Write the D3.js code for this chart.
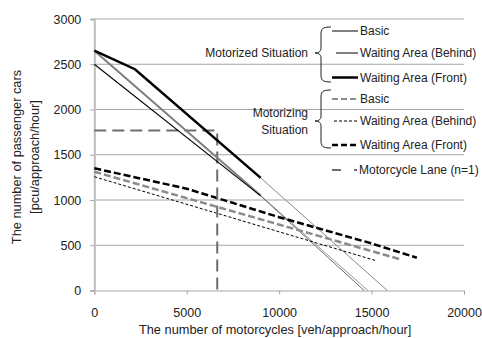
<!DOCTYPE html>
<html>
<head>
<meta charset="utf-8">
<script src="https://cdn.jsdelivr.net/npm/d3@7"></script>
<style>
  body { margin: 0; background: #fff; }
  svg { display: block; font-family: "Liberation Sans", Arial, sans-serif; }
</style>
</head>
<body>
<div id="chart"></div>
<script>
// x = motorcycles [veh/approach/hour], y = passenger cars [pcu/approach/hour]
const motorizedBasic = [[0, 2650], [9000, 1050]];
const motorizedBasicExt = [[9000, 1050], [14800, 0]];
const motorizedBehind = [[0, 2500], [9000, 1045]];
const motorizedBehindExt = [[9000, 1045], [14600, 0]];
const motorizedFront = [[0, 2650], [2200, 2445], [9000, 1245]];
const motorizedFrontExt = [[9000, 1245], [15850, 0]];

const motorizingBasic = [[0, 1313], [16550, 345]];
const motorizingBehind = [[0, 1257], [15300, 326]];
const motorizingFront = [[0, 1350], [5000, 1125], [10000, 810], [15000, 520], [17450, 362]];

const motorcycleLane = [[0, 1768], [6650, 1768], [6650, 0]];

const xTicks = [0, 5000, 10000, 15000, 20000];
const yTicks = [0, 500, 1000, 1500, 2000, 2500, 3000];

const groupNames = ["Motorized Situation", ["Motorizing", "Situation"]];
const legendLabels = ["Basic", "Waiting Area (Behind)", "Waiting Area (Front)",
                      "Basic", "Waiting Area (Behind)", "Waiting Area (Front)"];
const laneLabel = "Motorcycle Lane (n=1)";

const width = 482, height = 338;
const margin = {top: 19, right: 18, bottom: 47.5, left: 94.3};

const svg = d3.select("#chart").append("svg")
  .attr("width", width)
  .attr("height", height);

const x = d3.scaleLinear().domain([0, 20000]).range([margin.left, width - margin.right]);
const y = d3.scaleLinear().domain([0, 3000]).range([height - margin.bottom, margin.top]);

// gridlines
svg.append("g")
  .selectAll("line")
  .data(yTicks.slice(1))
  .join("line")
  .attr("x1", x(0)).attr("x2", x(20000))
  .attr("y1", d => y(d)).attr("y2", d => y(d))
  .attr("stroke", "#a6a6a6").attr("stroke-width", 1);

// x axis
const xAxis = svg.append("g")
  .attr("transform", `translate(0,${y(0)})`)
  .call(d3.axisBottom(x).tickValues(xTicks).tickSize(4).tickPadding(14).tickFormat(d3.format("d")));
xAxis.select(".domain").attr("stroke", "#a6a6a6");
xAxis.selectAll(".tick line").attr("stroke", "#a6a6a6");
xAxis.selectAll("text").attr("font-size", 12.5).attr("fill", "#222")
  .attr("font-family", "Liberation Sans, Arial, sans-serif");

// y axis
const yAxis = svg.append("g")
  .attr("transform", `translate(${x(0)},0)`)
  .call(d3.axisLeft(y).tickValues(yTicks).tickSize(4).tickPadding(9).tickFormat(d3.format("d")));
yAxis.select(".domain").attr("stroke", "#bdbdbd").attr("stroke-width", 2);
yAxis.selectAll(".tick line").attr("stroke", "#a6a6a6");
yAxis.selectAll("text").attr("font-size", 12.5).attr("fill", "#222")
  .attr("font-family", "Liberation Sans, Arial, sans-serif");

const line = d3.line().x(d => x(d[0])).y(d => y(d[1]));

const series = [
  {data: motorizedBasicExt, color: "#9a9a9a", w: 1, dash: null},
  {data: motorizedBehindExt, color: "#6a6a6a", w: 1, dash: null},
  {data: motorizedFrontExt, color: "#8a8a8a", w: 1, dash: null},
  {data: motorizingBehind, color: "#000", w: 1, dash: "3,2"},
  {data: motorizingBasic, color: "#8c8c8c", w: 2.5, dash: "7,3"},
  {data: motorizingFront, color: "#000", w: 2.5, dash: "7,3"},
  {data: motorcycleLane, color: "#6e6e6e", w: 2, dash: "12,6"},
  {data: motorizedBasic, color: "#7f7f7f", w: 2, dash: null},
  {data: motorizedBehind, color: "#000", w: 1.1, dash: null},
  {data: motorizedFront, color: "#000", w: 2.5, dash: null}
];

svg.append("g")
  .selectAll("path")
  .data(series)
  .join("path")
  .attr("d", d => line(d.data))
  .attr("fill", "none")
  .attr("stroke", d => d.color)
  .attr("stroke-width", d => d.w)
  .attr("stroke-dasharray", d => d.dash);

// legend
const legendStyles = [
  {color: "#7f7f7f", w: 2, dash: null, x1: 332},
  {color: "#000", w: 1, dash: null, x1: 336},
  {color: "#000", w: 2.5, dash: null, x1: 332},
  {color: "#8c8c8c", w: 2, dash: "6,3", x1: 332},
  {color: "#000", w: 1, dash: "3,2", x1: 334},
  {color: "#000", w: 2.5, dash: "6,3", x1: 332}
];
const legendY = [31, 53, 77.5, 99, 121, 145];

const lg = svg.append("g").attr("font-size", 12).attr("fill", "#222");

lg.selectAll("line.item")
  .data(legendStyles)
  .join("line")
  .attr("class", "item")
  .attr("x1", d => d.x1).attr("x2", 358)
  .attr("y1", (d, i) => legendY[i]).attr("y2", (d, i) => legendY[i])
  .attr("stroke", d => d.color)
  .attr("stroke-width", d => d.w)
  .attr("stroke-dasharray", d => d.dash);

lg.selectAll("text.item")
  .data(legendLabels)
  .join("text")
  .attr("class", "item")
  .attr("x", 360)
  .attr("y", (d, i) => legendY[i])
  .attr("dy", "0.35em")
  .text(d => d);

// braces
function brace(y0, y1, ym) {
  const xr = 331, xm = 321, xt = 315;
  return `M${xr},${y0} C${xm + 1},${y0} ${xm},${y0 + 2} ${xm},${y0 + 8}` +
    ` L${xm},${ym - 5} C${xm},${ym - 1} ${xt + 3},${ym} ${xt},${ym}` +
    ` C${xt + 3},${ym} ${xm},${ym + 1} ${xm},${ym + 5}` +
    ` L${xm},${y1 - 8} C${xm},${y1 - 2} ${xm + 1},${y1} ${xr},${y1}`;
}
svg.append("path").attr("d", brace(27, 82, 53))
  .attr("fill", "none").attr("stroke", "#222").attr("stroke-width", 1);
svg.append("path").attr("d", brace(90, 148, 121))
  .attr("fill", "none").attr("stroke", "#222").attr("stroke-width", 1);

lg.append("text")
  .attr("x", 308).attr("y", 53).attr("dy", "0.35em")
  .attr("text-anchor", "end")
  .text(groupNames[0]);
lg.append("text")
  .attr("text-anchor", "end")
  .selectAll("tspan")
  .data(groupNames[1])
  .join("tspan")
  .attr("x", 308)
  .attr("y", (d, i) => 113 + i * 16.5)
  .attr("dy", "0.35em")
  .text(d => d);

// motorcycle lane legend
lg.append("line")
  .attr("x1", 332).attr("x2", 357)
  .attr("y1", 170).attr("y2", 170)
  .attr("stroke", "#6e6e6e").attr("stroke-width", 2)
  .attr("stroke-dasharray", "9,13");
lg.append("text")
  .attr("x", 359).attr("y", 170).attr("dy", "0.35em")
  .text(laneLabel);

// axis titles
svg.append("text")
  .attr("x", (x(0) + x(20000)) / 2 - 4)
  .attr("y", 330).attr("dy", "0.35em")
  .attr("text-anchor", "middle")
  .attr("font-size", 12.8).attr("fill", "#222")
  .text("The number of motorcycles [veh/approach/hour]");

svg.append("text")
  .attr("transform", "translate(17,157) rotate(-90)")
  .attr("text-anchor", "middle")
  .attr("font-size", 12.8).attr("fill", "#222")
  .selectAll("tspan")
  .data(["The number of passenger cars", "[pcu/approach/hour]"])
  .join("tspan")
  .attr("x", 0)
  .attr("y", (d, i) => i * 17.5)
  .attr("dy", "0.35em")
  .text(d => d);
</script>
</body>
</html>
